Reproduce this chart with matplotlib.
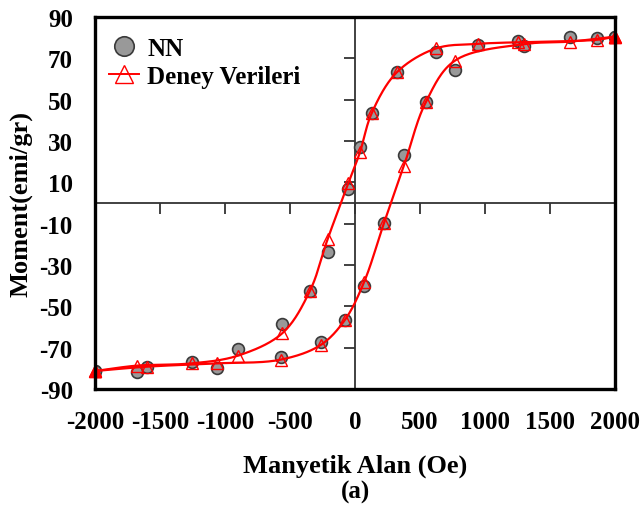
import numpy as np
import matplotlib
matplotlib.use('Agg')
import matplotlib.pyplot as plt
from matplotlib.lines import Line2D
from matplotlib.markers import TICKDOWN, TICKLEFT

plt.rcParams['axes.unicode_minus'] = False

# upper branch (field going down from +2000 to -2000)
field_down = [2000, 1864, 1256, 944, 623, 321, 128, 38, -51, -210, -346, -559, -903, -1256, -1679, -2000]
deney_down = [80.5, 79.0, 77.8, 77.0, 74.8, 63.2, 43.4, 24.5, 9.7, -17.4, -42.4, -63.0, -73.9, -77.6, -78.7, -81.3]
nn_down = [80.5, 79.7, 78.5, 76.4, 72.9, 63.2, 43.4, 27.2, 6.8, -23.9, -42.4, -58.7, -70.6, -77.1, -81.9, -81.3]

# lower branch (field going up from -2000 to +2000)
field_up = [-2000, -1603, -1059, -572, -264, -77, 69, 223, 377, 544, 769, 1303, 1654, 2000]
deney_up = [-81.3, -79.2, -77.6, -75.8, -68.7, -56.5, -38.4, -9.7, 18.1, 48.7, 68.9, 76.9, 78.1, 80.5]
nn_up = [-81.3, -79.5, -80.0, -74.7, -67.1, -56.5, -40.3, -9.7, 23.4, 48.7, 64.3, 75.8, 80.1, 80.5]

x_ticks = list(range(-2000, 2001, 500))
y_ticks = list(range(-90, 91, 20))

FONT = {'family': 'Liberation Serif', 'weight': 'bold'}


def smooth_line(ax, xs, ys, n=30):
    # centripetal catmull-rom in pixel space, like excel's smoothed lines
    pts = ax.transData.transform(np.column_stack([xs, ys]))
    pts = np.vstack([2 * pts[0] - pts[1], pts, 2 * pts[-1] - pts[-2]])
    out = []
    for i in range(1, len(pts) - 2):
        p0, p1, p2, p3 = pts[i - 1:i + 3]
        t0 = 0.0
        t1 = t0 + max(np.linalg.norm(p1 - p0), 1e-6) ** 0.5
        t2 = t1 + max(np.linalg.norm(p2 - p1), 1e-6) ** 0.5
        t3 = t2 + max(np.linalg.norm(p3 - p2), 1e-6) ** 0.5
        t = np.linspace(t1, t2, n)[:, None]
        a1 = (t1 - t) / (t1 - t0) * p0 + (t - t0) / (t1 - t0) * p1
        a2 = (t2 - t) / (t2 - t1) * p1 + (t - t1) / (t2 - t1) * p2
        a3 = (t3 - t) / (t3 - t2) * p2 + (t - t2) / (t3 - t2) * p3
        b1 = (t2 - t) / (t2 - t0) * a1 + (t - t0) / (t2 - t0) * a2
        b2 = (t3 - t) / (t3 - t1) * a2 + (t - t1) / (t3 - t1) * a3
        c = (t2 - t) / (t2 - t1) * b1 + (t - t1) / (t2 - t1) * b2
        out.append(c)
    curve = ax.transData.inverted().transform(np.vstack(out))
    return curve[:, 0], curve[:, 1]


fig = plt.figure(figsize=(6.41, 5.06), dpi=100)
ax = fig.add_axes([95 / 641, 1 - 390 / 506, 520 / 641, 372 / 506])
ax.set_xlim(-2000, 2000)
ax.set_ylim(-90, 90)

# axes crossing at zero
ax.axhline(0, color='#333333', lw=1.3, zorder=1)
ax.axvline(0, color='#333333', lw=1.3, zorder=1)
ax.plot(x_ticks[1:-1], [0] * (len(x_ticks) - 2), ls='none', marker=TICKDOWN,
        markersize=8, mew=1.3, color='#333333', zorder=1)
ax.plot([0] * len(y_ticks), y_ticks, ls='none', marker=TICKLEFT,
        markersize=8, mew=1.3, color='#333333', zorder=1)

circ = dict(ls='none', marker='o', markersize=8.5, markerfacecolor='#999999',
            markeredgecolor='#3a3a3a', markeredgewidth=1.2, zorder=3)
ax.plot(field_down, nn_down, **circ)
ax.plot(field_up, nn_up, **circ)

for xs, ys in [(field_down, deney_down), (field_up, deney_up)]:
    sx, sy = smooth_line(ax, xs, ys)
    ax.plot(sx, sy, color='red', lw=1.6, zorder=4)
    ax.plot(xs, ys, ls='none', marker='^', markersize=8, markerfacecolor='none',
            markeredgecolor='red', markeredgewidth=1.0, zorder=5)
    ax.plot([xs[0], xs[-1]], [ys[0], ys[-1]], ls='none', marker='^', markersize=9,
            color='red', zorder=6, clip_on=False)

for sp in ax.spines.values():
    sp.set_linewidth(2.4)
    sp.set_zorder(7)

ax.set_xticks(x_ticks)
ax.set_yticks(y_ticks)
ax.tick_params(length=0)
ax.tick_params(axis='x', pad=15)
ax.tick_params(axis='y', pad=16)
for lab in ax.get_xticklabels() + ax.get_yticklabels():
    lab.set_fontfamily('Liberation Serif')
    lab.set_fontweight('bold')
    lab.set_fontsize(18)

ax.set_xlabel('Manyetik Alan (Oe)', fontsize=19, va='center', **FONT)
ax.xaxis.set_label_coords(0.5, (390 - 466) / 372)
ax.set_ylabel('Moment(emi/gr)', fontsize=19, va='center', **FONT)
ax.yaxis.set_label_coords((21 - 95) / 520, 0.5)
fig.text(355 / 641, 1 - 492 / 506, '(a)', ha='center', va='center', fontsize=18, **FONT)

handles = [Line2D([], [], ls='none', marker='o', markersize=14, markerfacecolor='#999999',
                  markeredgecolor='#3a3a3a', markeredgewidth=1.2),
           Line2D([], [], color='red', lw=1.4, marker='^', markersize=13,
                  markerfacecolor='none', markeredgecolor='red', markeredgewidth=1.0)]
ax.legend(handles, ['NN', 'Deney Verileri'], loc='upper left', frameon=False,
          bbox_to_anchor=(0.026, 0.947),
          prop={'family': 'Liberation Serif', 'weight': 'bold', 'size': 18},
          handlelength=1.2, handletextpad=0.35, labelspacing=0.22,
          borderaxespad=0, borderpad=0)

fig.savefig('out.png', dpi=100)
